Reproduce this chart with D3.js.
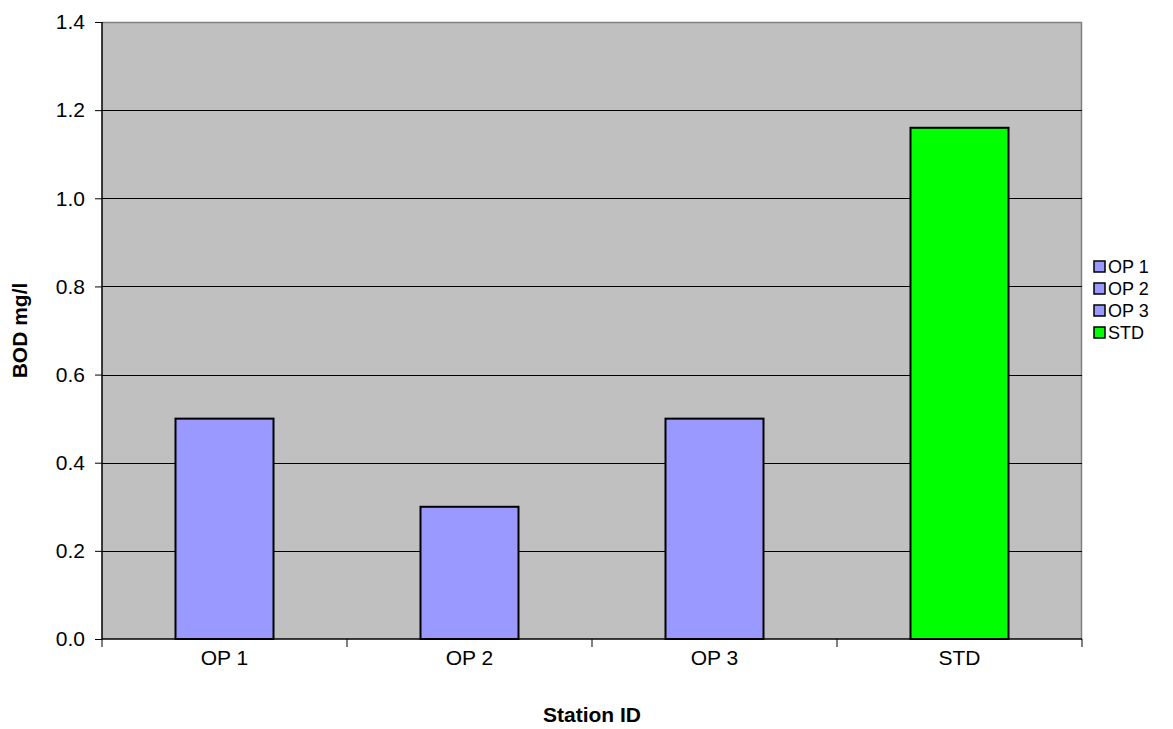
<!DOCTYPE html>
<html>
<head>
<meta charset="utf-8">
<script src="https://cdn.jsdelivr.net/npm/d3@7"></script>
<style>
  body { margin: 0; background: #fff; }
  svg { display: block; font-family: "Liberation Sans", Arial, sans-serif; }
</style>
</head>
<body>
<svg id="chart" width="1173" height="729"></svg>
<script>
// BOD readings per station
const categories = ["OP 1", "OP 2", "OP 3", "STD"];
const values = [0.5, 0.3, 0.5, 1.16];
const colors = ["#9999FF", "#9999FF", "#9999FF", "#00FF00"];
const yTicks = [0, 0.2, 0.4, 0.6, 0.8, 1.0, 1.2, 1.4];

const FS = 21;
const svg = d3.select("#chart");
const margin = { left: 102, top: 22, right: 1082, bottom: 639 };

const x = d3.scaleBand().domain(categories)
  .range([margin.left, margin.right]).paddingInner(0.6).paddingOuter(0.3);
const xOuter = d3.scaleBand().domain(categories).range([margin.left, margin.right]);
const y = d3.scaleLinear().domain([0, 1.4]).range([margin.bottom, margin.top]);

// plot area
svg.append("rect")
  .attr("x", margin.left).attr("y", margin.top)
  .attr("width", margin.right - margin.left).attr("height", margin.bottom - margin.top)
  .attr("fill", "#C0C0C0");
svg.append("path")
  .attr("d", `M${margin.left},${margin.top + 0.5}H${margin.right - 0.5}V${margin.bottom}`)
  .attr("fill", "none").attr("stroke", "#808080").attr("stroke-width", 1.5);

// gridlines
svg.append("g").selectAll("line").data(yTicks.filter(d => d > 0 && d < 1.4)).join("line")
  .attr("x1", margin.left).attr("x2", margin.right)
  .attr("y1", d => Math.round(y(d)) + 0.5).attr("y2", d => Math.round(y(d)) + 0.5)
  .attr("stroke", "#000").attr("stroke-width", 1);

// bars
svg.append("g").selectAll("rect").data(values).join("rect")
  .attr("x", (d, i) => x(categories[i]))
  .attr("width", x.bandwidth())
  .attr("y", d => y(d))
  .attr("height", d => y(0) - y(d))
  .attr("fill", (d, i) => colors[i])
  .attr("stroke", "#000").attr("stroke-width", 2);

// y axis
const yAxis = svg.append("g").attr("transform", `translate(${margin.left},0)`)
  .call(d3.axisLeft(y).tickValues(yTicks).tickFormat(d3.format(".1f")).tickSize(7).tickPadding(10));
yAxis.attr("font-size", null).attr("font-family", null);
yAxis.select(".domain").attr("stroke", "#000").attr("stroke-width", 1.5)
  .attr("d", `M0,${margin.top}V${margin.bottom}`);
yAxis.selectAll(".tick line").attr("stroke", "#000");
yAxis.selectAll("text").attr("font-size", FS).attr("fill", "#000");

// x axis
const xAxis = svg.append("g").attr("transform", `translate(0,${margin.bottom})`);
xAxis.append("line").attr("x1", margin.left).attr("x2", margin.right)
  .attr("stroke", "#000").attr("stroke-width", 1.5);
const bounds = categories.map(c => xOuter(c)).concat([margin.right]);
xAxis.selectAll("line.tk").data(bounds).join("line").attr("class", "tk")
  .attr("x1", d => d).attr("x2", d => d).attr("y1", 0).attr("y2", 8)
  .attr("stroke", "#000");
xAxis.selectAll("text").data(categories).join("text")
  .attr("x", d => xOuter(d) + xOuter.bandwidth() / 2).attr("y", 26)
  .attr("text-anchor", "middle").attr("font-size", FS).text(d => d);

// axis titles
svg.append("text").attr("x", (margin.left + margin.right) / 2).attr("y", 722)
  .attr("text-anchor", "middle").attr("font-size", FS).attr("font-weight", "bold")
  .text("Station ID");
svg.append("text").attr("transform", `translate(27,${(margin.top + margin.bottom) / 2}) rotate(-90)`)
  .attr("text-anchor", "middle").attr("font-size", FS).attr("font-weight", "bold")
  .text("BOD mg/l");

// legend
const legend = svg.append("g").attr("transform", "translate(1094,267)");
const rows = legend.selectAll("g").data(categories).join("g")
  .attr("transform", (d, i) => `translate(0,${i * 22})`);
rows.append("rect").attr("x", 0).attr("y", -6).attr("width", 11).attr("height", 11)
  .attr("fill", (d, i) => colors[i]).attr("stroke", "#000").attr("stroke-width", 1.5);
rows.append("text").attr("x", 14).attr("y", 0).attr("dy", "0.36em")
  .attr("font-size", 18).text(d => d);
</script>
</body>
</html>
